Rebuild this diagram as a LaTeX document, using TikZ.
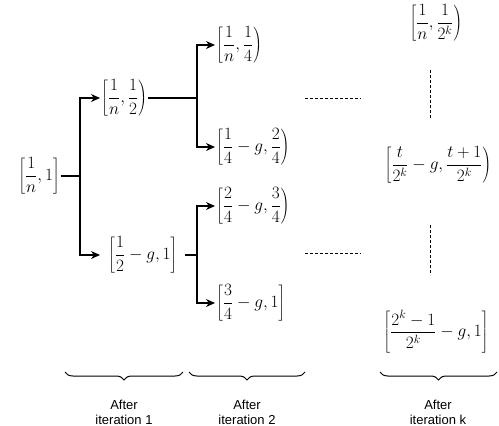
\documentclass[tikz,border=0pt]{standalone}
\usepackage{fontspec}
\setsansfont{Liberation Sans}
\usetikzlibrary{arrows.meta,decorations.pathreplacing}
\tikzset{
  iv/.style={inner xsep=1pt, inner ysep=0pt, font=\fontsize{16.5}{19}\selectfont, execute at begin node=$\displaystyle, execute at end node=$},
  wide/.style={iv, inner xsep=8pt},
  ln/.style={line width=1.4pt},
  arr/.style={ln, -{Stealth[length=9pt,width=8pt]}},
  dsh/.style={line width=0.9pt, dash pattern=on 3pt off 2pt},
  brc/.style={line width=1pt, decorate, decoration={brace, mirror, amplitude=8pt}},
  lab/.style={align=center, font=\sffamily\fontsize{13}{15}\selectfont, inner sep=0pt}
}
\begin{document}
\begin{tikzpicture}[x=1pt,y=-1pt]
\useasboundingbox (0,0) rectangle (499,426);
% nodes
\node[iv] (r) at (39,176) {\left[\frac{1}{n},1\right]};
\node[iv, anchor=west] (n12) at (100,98) {\left[\frac{1}{n},\frac{1}{2}\right)};
\node[wide, anchor=west] (n2g) at (100,255) {\left[\frac{1}{2}-g,1\right]};
\node[iv, anchor=west] (n14) at (215,45) {\left[\frac{1}{n},\frac{1}{4}\right)};
\node[iv, anchor=west] (n24) at (215,147) {\left[\frac{1}{4}-g,\frac{2}{4}\right)};
\node[iv, anchor=west] (n34) at (215,206) {\left[\frac{2}{4}-g,\frac{3}{4}\right)};
\node[iv, anchor=west] (n1) at (215,303) {\left[\frac{3}{4}-g,1\right]};
\node[iv] (k1) at (436,23) {\left[\frac{1}{n},\frac{1}{2^k}\right)};
\node[iv] (kt) at (438,165) {\medmuskip=2.5mu\left[\frac{t}{2^k}-g,\frac{t+1}{2^k}\right)};
\node[iv] (kl) at (436,332) {\medmuskip=2.5mu\left[\frac{2^k-1}{2^k}-g,1\right]};
% branch points
\coordinate (b1) at (80,176);
\coordinate (b2) at (197,98);
\coordinate (b3) at (197,255);
% connectors
\draw[ln] (r.east) -- (b1);
\draw[arr] (b1) |- (n12.west);
\draw[arr] (b1) |- (n2g.west);
\draw[ln] (n12.east) -- (b2);
\draw[arr] (b2) |- (n14.west);
\draw[arr] (b2) |- (n24.west);
\draw[ln] (n2g.east) -- (b3);
\draw[arr] (b3) |- (n34.west);
\draw[arr] (b3) |- (n1.west);
% dots
\draw[dsh] (305,98) -- (361,98);
\draw[dsh] (305,253) -- (361,253);
\draw[dsh] (430,70) -- (430,118);
\draw[dsh] (430,225) -- (430,275);
% braces
\draw[brc] (65,372) -- (183,372);
\draw[brc] (189,372) -- (305,372);
\draw[brc] (380,372) -- (497,372);
\node[lab] (t1) at (124,412) {After\\iteration 1};
\node[lab] (t2) at (247,412) {After\\iteration 2};
\node[lab] (t3) at (438,412) {After\\iteration k};
\end{tikzpicture}
\end{document}
